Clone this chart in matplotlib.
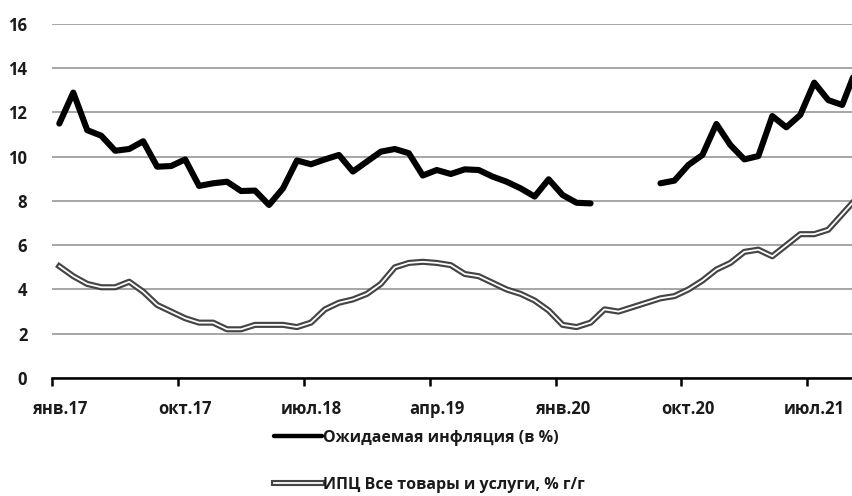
import numpy as np
import matplotlib
matplotlib.use("Agg")
import matplotlib.pyplot as plt
import matplotlib.patheffects as pe

plt.rcParams['font.family'] = ['Open Sans', 'DejaVu Sans']

# monthly, Jan 2017 .. Oct 2021
months = np.arange(58)
tick_labels = ['янв.17', 'окт.17', 'июл.18', 'апр.19', 'янв.20', 'окт.20', 'июл.21']

expected = [11.5, 12.9, 11.2, 10.95, 10.27, 10.35, 10.7, 9.55, 9.58, 9.88,
            8.68, 8.8, 8.87, 8.45, 8.47, 7.82, 8.57, 9.83, 9.66, 9.88,
            10.08, 9.33, 9.78, 10.23, 10.35, 10.16, 9.15, 9.4, 9.22, 9.43,
            9.4, 9.1, 8.87, 8.57, 8.2, 8.98, 8.27, 7.92, 7.89,
            np.nan, np.nan, np.nan, np.nan,
            8.8, 8.92, 9.63, 10.08, 11.48, 10.53, 9.88, 10.03, 11.84, 11.33,
            11.89, 13.35, 12.56, 12.34, 13.95]

cpi = [5.05, 4.6, 4.25, 4.1, 4.1, 4.35, 3.9, 3.3, 3.0, 2.7,
       2.5, 2.5, 2.2, 2.2, 2.4, 2.4, 2.4, 2.3, 2.5, 3.1,
       3.4, 3.55, 3.8, 4.25, 5.0, 5.2, 5.25, 5.2, 5.1, 4.7,
       4.6, 4.3, 4.0, 3.8, 3.5, 3.05, 2.4, 2.3, 2.5, 3.1,
       3.0, 3.2, 3.4, 3.6, 3.7, 4.0, 4.4, 4.9, 5.2, 5.7,
       5.8, 5.5, 6.0, 6.5, 6.5, 6.7, 7.4, 8.1]

label_exp = 'Ожидаемая инфляция (в %)'
label_cpi = 'ИПЦ Все товары и услуги, % г/г'

fig = plt.figure(figsize=(8.52, 4.96), dpi=100)
ax = fig.add_axes([0.0614, 0.238, 0.9386, 0.7136])

ax.plot(months, expected, color='black', lw=4.4, label=label_exp,
        solid_joinstyle='round', solid_capstyle='round', zorder=3)
ax.plot(months, cpi, color='white', lw=1.3, label=label_cpi, zorder=3,
        path_effects=[pe.Stroke(linewidth=4.4, foreground='#444444'), pe.Normal()])

ax.set_ylim(0, 16)
ax.set_xlim(-0.5, 56.7)
ax.set_yticks(range(0, 17, 2))
ax.yaxis.grid(True, color='#a6a6a6', lw=1.4)
ax.set_axisbelow(True)

# ticks between categories, labels centred on the category
ax.set_xticks(np.arange(-0.5, 57, 9))
ax.set_xticklabels([])
ax.set_xticks(np.arange(0, 57, 9), minor=True)
ax.set_xticklabels(tick_labels, minor=True)
ax.tick_params(axis='x', which='major', length=6, width=1.8, color='black')
ax.tick_params(axis='x', which='minor', length=0, pad=16, labelsize=12)
ax.tick_params(axis='y', length=0, pad=18, labelsize=12)
for lbl in ax.get_xticklabels(minor=True) + ax.get_yticklabels():
    lbl.set_fontweight('bold')
    lbl.set_color('#1a1a1a')

for s in ['top', 'right', 'left']:
    ax.spines[s].set_visible(False)
ax.spines['bottom'].set_linewidth(1.8)
ax.spines['bottom'].set_zorder(4)

leg = fig.legend(loc='upper left', bbox_to_anchor=(0.305, 0.163), frameon=False,
                 handlelength=3.0, handletextpad=0.05, labelspacing=1.95,
                 prop={'size': 11.5, 'weight': 'bold'})
for t in leg.get_texts():
    t.set_color('#1a1a1a')
leg.get_lines()[0].set_linewidth(3.2)

fig.savefig('out.png', dpi=100)
